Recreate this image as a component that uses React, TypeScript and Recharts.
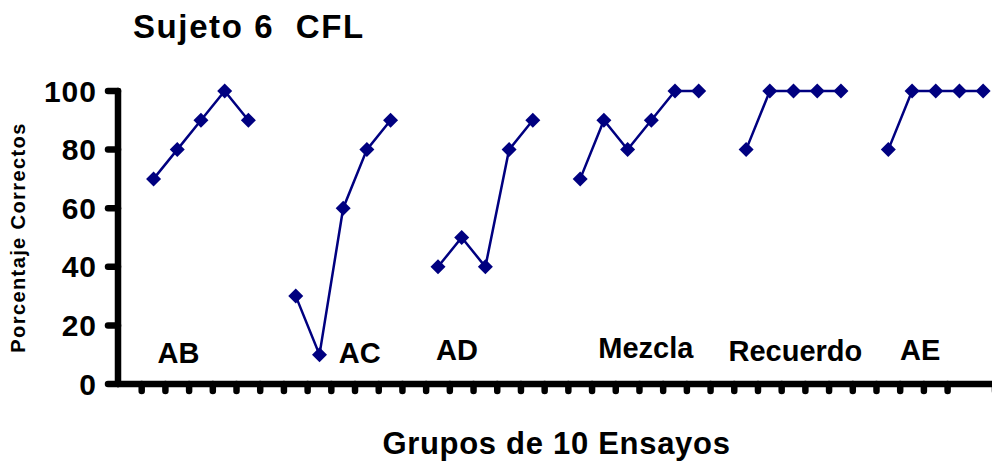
import { LineChart, Line, XAxis, YAxis, ReferenceDot } from 'recharts';

const groupNames = ['AB', 'AC', 'AD', 'Mezcla', 'Recuerdo', 'AE'];
const abValues = [70, 80, 90, 100, 90];
const acValues = [30, 10, 60, 80, 90];
const adValues = [40, 50, 40, 80, 90];
const mezclaValues = [70, 90, 80, 90, 100, 100];
const recuerdoValues = [80, 100, 100, 100, 100];
const aeValues = [80, 100, 100, 100, 100];
const yTicks = [0, 20, 40, 60, 80, 100];

// where each group name sits, in axis units (x = slot, y = percent)
const labelX = [2.55, 10.2, 14.3, 22.27, 28.58, 33.84];
const labelY = [10.6, 10.7, 11.6, 12.3, 11.4, 11.8];

const FONT = '"Liberation Sans", Arial, sans-serif';
const NAVY = '#000080';

// one empty slot before each group, like the original sheet
const rows: { x: number; v: number | null }[] = [];
[abValues, acValues, adValues, mezclaValues, recuerdoValues, aeValues].forEach((g) => {
  rows.push({ x: rows.length + 0.5, v: null });
  g.forEach((v) => rows.push({ x: rows.length + 0.5, v }));
});
const slotCount = rows.length;
const xTicks = Array.from({ length: slotCount }, (_, i) => i + 1);

const Diamond = (props: any) => {
  const { cx, cy, index } = props;
  if (cx == null || cy == null || props.value == null) return <g key={index} />;
  const r = 7.5;
  return (
    <polygon
      key={index}
      points={`${cx},${cy - r} ${cx + r},${cy} ${cx},${cy + r} ${cx - r},${cy}`}
      fill={NAVY}
    />
  );
};

const NoLabel = () => <g />;

const axisStroke = { stroke: '#000', strokeWidth: 6.5, strokeLinecap: 'round' as const };

export default function App() {
  return (
    <div style={{ position: 'fixed', left: 0, top: 0, width: 992, height: 464, overflow: 'hidden', background: '#fff' }}>
      <div
        style={{
          position: 'absolute',
          left: 133,
          top: 10.4,
          fontFamily: FONT,
          fontWeight: 'bold',
          fontSize: 33,
          lineHeight: '33px',
          letterSpacing: 1.6,
          whiteSpace: 'pre',
          color: '#000',
        }}
      >
        Sujeto 6  CFL
      </div>
      <LineChart width={1000} height={464} data={rows} margin={{ top: 91, right: 5, bottom: 0, left: 0 }}>
        <XAxis
          dataKey="x"
          type="number"
          domain={[0, slotCount]}
          ticks={xTicks}
          tick={NoLabel}
          tickSize={7}
          height={80}
          axisLine={axisStroke}
          tickLine={axisStroke}
          label={{
            value: 'Grupos de 10 Ensayos',
            position: 'insideBottom',
            offset: 10,
            style: { fontFamily: FONT, fontWeight: 'bold', fontSize: 31, letterSpacing: 0.7, fill: '#000' },
          }}
        />
        <YAxis
          type="number"
          domain={[0, 100]}
          ticks={yTicks}
          width={118}
          tickSize={10}
          tickMargin={11}
          axisLine={axisStroke}
          tickLine={axisStroke}
          tick={{ fontFamily: FONT, fontWeight: 'bold', fontSize: 30, letterSpacing: 1, fill: '#000' }}
          label={{
            value: 'Porcentaje Correctos',
            angle: -90,
            position: 'insideLeft',
            offset: 18.4,
            style: { textAnchor: 'middle', fontFamily: FONT, fontWeight: 'bold', fontSize: 20, letterSpacing: 1.4, fill: '#000' },
          }}
        />
        <Line
          dataKey="v"
          stroke={NAVY}
          strokeWidth={2.5}
          dot={Diamond}
          activeDot={false}
          connectNulls={false}
          isAnimationActive={false}
        />
        {groupNames.map((name, i) => (
          <ReferenceDot
            key={name}
            x={labelX[i]}
            y={labelY[i]}
            r={0}
            fill="none"
            stroke="none"
            label={{
              value: name,
              position: 'center',
              style: { fontFamily: FONT, fontWeight: 'bold', fontSize: 29, fill: '#000' },
            }}
          />
        ))}
      </LineChart>
    </div>
  );
}
